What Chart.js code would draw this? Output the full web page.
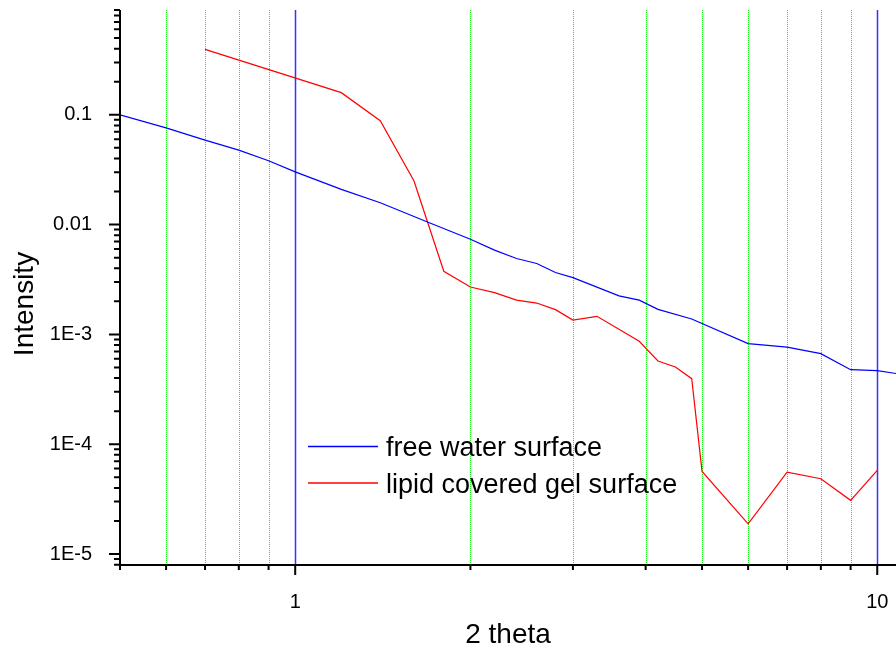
<!DOCTYPE html>
<html>
<head>
<meta charset="utf-8">
<script src="https://cdn.jsdelivr.net/npm/chart.js@4.4.1/dist/chart.umd.min.js"></script>
<style>
  body { margin: 0; background: #fff; }
  #wrap { width: 896px; height: 651px; position: relative; }
</style>
</head>
<body>
<div id="wrap"><canvas id="myChart"></canvas></div>
<script>
// free water surface
var xWater = [0.5, 0.6, 0.7, 0.8, 0.9, 1.0, 1.2, 1.4, 1.7, 2.0, 2.2, 2.4, 2.6, 2.8, 3.0, 3.6, 3.9, 4.2, 4.8, 6, 7, 8, 9, 10, 11];
var yWater = [0.1, 0.0761, 0.0588, 0.0477, 0.0381, 0.0302, 0.0209, 0.0158, 0.0104, 0.00736, 0.00585, 0.00491, 0.00442, 0.00366, 0.00329, 0.00224, 0.00205, 0.00169, 0.00138, 0.000824, 0.000767, 0.000668, 0.000477, 0.000468, 0.000433];

// lipid covered gel surface
var xLipid = [0.7, 1.2, 1.4, 1.6, 1.8, 2.0, 2.2, 2.4, 2.6, 2.8, 3.0, 3.3, 3.9, 4.2, 4.5, 4.8, 5, 6, 7, 8, 9, 10];
var yLipid = [0.394, 0.159, 0.0882, 0.0249, 0.00376, 0.0027, 0.0024, 0.00205, 0.00193, 0.00168, 0.00135, 0.00146, 0.000865, 0.000572, 0.000505, 0.000395, 0.0000565, 0.0000188, 0.0000557, 0.0000485, 0.0000308, 0.0000577];

var xTickValues = [1, 10];
var xTickLabels = ['1', '10'];
var yTickValues = [1e-5, 1e-4, 1e-3, 0.01, 0.1];
var yTickLabels = ['1E-5', '1E-4', '1E-3', '0.01', '0.1'];

var FONT = "'Liberation Sans', Arial, sans-serif";

function pairs(xs, ys) {
  return xs.map(function(x, i) { return { x: x, y: ys[i] }; });
}

// minor positions 2..9 of each decade that fall inside the scale
function minorValues(scale) {
  var out = [];
  for (var e = -7; e <= 2; e++) {
    var d = Math.pow(10, e);
    for (var m = 2; m <= 9; m++) {
      var v = m * d;
      if (v >= scale.min * 0.999 && v <= scale.max * 1.001) out.push(v);
    }
  }
  return out;
}

// no extra room for overhanging labels
function noPad(scale) {
  scale.paddingTop = 0;
  scale.paddingBottom = 0;
  scale.paddingLeft = 0;
  scale.paddingRight = 0;
}

var decor = {
  id: 'decor',
  beforeDatasetsDraw: function(chart) {
    var ctx = chart.ctx, a = chart.chartArea, xs = chart.scales.x;
    ctx.save();
    ctx.beginPath();
    ctx.rect(a.left, a.top, a.right - a.left, a.bottom - a.top);
    ctx.clip();
    // green dotted minor grid
    ctx.strokeStyle = '#11ee11';
    ctx.lineWidth = 1;
    ctx.setLineDash([1, 1]);
    minorValues(xs).forEach(function(v) {
      var px = Math.round(xs.getPixelForValue(v)) + 0.5;
      if (px <= a.left + 1) return;
      ctx.beginPath();
      ctx.moveTo(px, a.top);
      ctx.lineTo(px, a.bottom);
      ctx.stroke();
    });
    // blue solid major grid
    ctx.setLineDash([]);
    ctx.strokeStyle = '#3333ff';
    ctx.lineWidth = 1.5;
    xTickValues.forEach(function(v) {
      var px = Math.round(xs.getPixelForValue(v)) + 0.5;
      ctx.beginPath();
      ctx.moveTo(px, a.top);
      ctx.lineTo(px, a.bottom);
      ctx.stroke();
    });
    ctx.restore();
  },
  afterDraw: function(chart) {
    var ctx = chart.ctx, a = chart.chartArea;
    var xs = chart.scales.x, ys = chart.scales.y;
    ctx.save();
    // axes
    ctx.strokeStyle = '#000';
    ctx.lineWidth = 2;
    ctx.beginPath();
    ctx.moveTo(a.left, a.top);
    ctx.lineTo(a.left, a.bottom);
    ctx.lineTo(a.right, a.bottom);
    ctx.stroke();
    // tick marks
    ctx.beginPath();
    xTickValues.forEach(function(v) {
      var px = xs.getPixelForValue(v);
      ctx.moveTo(px, a.bottom); ctx.lineTo(px, a.bottom + 10);
    });
    minorValues(xs).forEach(function(v) {
      var px = xs.getPixelForValue(v);
      ctx.moveTo(px, a.bottom); ctx.lineTo(px, a.bottom + 5);
    });
    yTickValues.forEach(function(v) {
      var py = ys.getPixelForValue(v);
      ctx.moveTo(a.left, py); ctx.lineTo(a.left - 11, py);
    });
    minorValues(ys).forEach(function(v) {
      var py = ys.getPixelForValue(v);
      ctx.moveTo(a.left, py); ctx.lineTo(a.left - 6, py);
    });
    ctx.stroke();

    // axis titles
    ctx.fillStyle = '#000';
    ctx.font = '28px ' + FONT;
    ctx.textAlign = 'center';
    ctx.textBaseline = 'alphabetic';
    ctx.fillText('2 theta', (a.left + a.right) / 2, 643);
    ctx.save();
    ctx.translate(33, 304);
    ctx.rotate(-Math.PI / 2);
    ctx.fillText('Intensity', 0, 0);
    ctx.restore();

    // legend inside plot
    ctx.font = '27px ' + FONT;
    ctx.textAlign = 'left';
    chart.data.datasets.forEach(function(ds, i) {
      var y = 446.5 + i * 36.5;
      ctx.strokeStyle = ds.borderColor;
      ctx.lineWidth = 1.5;
      ctx.beginPath();
      ctx.moveTo(308, y); ctx.lineTo(378, y);
      ctx.stroke();
      ctx.fillStyle = '#000';
      ctx.fillText(ds.label, 386, y + 9.5);
    });
    ctx.restore();
  }
};

var ctx = document.getElementById('myChart');
var myChart = new Chart(ctx, {
  type: 'line',
  data: {
    datasets: [{
      label: 'free water surface',
      data: pairs(xWater, yWater),
      borderColor: '#0000ff',
      borderWidth: 1.2,
      pointRadius: 0,
      tension: 0
    }, {
      label: 'lipid covered gel surface',
      data: pairs(xLipid, yLipid),
      borderColor: '#ff0000',
      borderWidth: 1.2,
      pointRadius: 0,
      tension: 0
    }]
  },
  options: {
    responsive: true,
    maintainAspectRatio: false,
    animation: false,
    layout: { padding: { top: 10, right: 0, bottom: 0, left: 0 } },
    plugins: { legend: { display: false }, tooltip: { enabled: false } },
    scales: {
      x: {
        type: 'logarithmic',
        min: 0.5,
        max: 10.77,
        bounds: 'data',
        grid: { display: false },
        border: { display: false },
        afterBuildTicks: function(scale) {
          scale.ticks = xTickValues.map(function(v) { return { value: v }; });
        },
        afterFit: function(scale) { scale.height = 86; noPad(scale); },
        ticks: {
          autoSkip: false,
          maxRotation: 0,
          padding: 17,
          color: '#000',
          font: { family: FONT, size: 20 },
          callback: function(value) {
            var i = xTickValues.indexOf(value);
            return i >= 0 ? xTickLabels[i] : '';
          }
        }
      },
      y: {
        type: 'logarithmic',
        min: 7.94e-6,
        max: 0.9,
        bounds: 'data',
        grid: { display: false },
        border: { display: false },
        afterBuildTicks: function(scale) {
          scale.ticks = yTickValues.map(function(v) { return { value: v }; });
        },
        afterFit: function(scale) { scale.width = 120; noPad(scale); },
        ticks: {
          autoSkip: false,
          padding: 20,
          color: '#000',
          font: { family: FONT, size: 20 },
          callback: function(value) {
            for (var i = 0; i < yTickValues.length; i++) {
              if (Math.abs(yTickValues[i] - value) / yTickValues[i] < 1e-6) return yTickLabels[i];
            }
            return '';
          }
        }
      }
    }
  },
  plugins: [decor]
});
</script>
</body>
</html>
